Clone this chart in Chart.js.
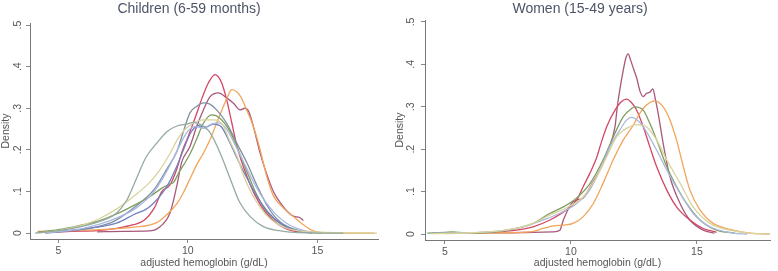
<!DOCTYPE html>
<html><head><meta charset="utf-8">
<script src="https://cdn.jsdelivr.net/npm/chart.js@4"></script>
<style>
html,body{margin:0;padding:0;background:#fff;width:778px;height:271px;overflow:hidden;position:relative}
.w{position:absolute;top:0;height:271px}
canvas{display:block}
</style></head><body>
<div class="w" style="left:0;width:408px"><canvas id="c1" width="408" height="271"></canvas></div>
<div class="w" style="left:390px;width:416px"><canvas id="c2" width="416" height="271"></canvas></div>
<script>
// ---- data (x = adjusted hemoglobin g/dL, y = density) ----
const xTicks = [5, 10, 15];
const yTicks = [0, 0.1, 0.2, 0.3, 0.4, 0.5];
const yTickLabels = ["0", ".1", ".2", ".3", ".4", ".5"];
const titles = ["Children (6-59 months)", "Women (15-49 years)"];
const xTitle = "adjusted hemoglobin (g/dL)";
const yTitle = "Density";

// Children
const chGrayTeal = [[4.1,0],[5.3,0.008],[6.6,0.028],[7.25,0.048],[7.65,0.08],[8.05,0.136],[8.4,0.184],[8.8,0.216],[9.2,0.244],[9.6,0.258],[9.95,0.262],[10.2,0.266],[10.45,0.262],[10.85,0.242],[11.25,0.192],[11.65,0.128],[12.0,0.074],[12.4,0.04],[12.9,0.016],[13.7,0.004],[15,0],[16,0]];
const chSlate = [[4.5,0.001],[5.5,0.006],[6.5,0.015],[7.2,0.03],[8.0,0.065],[8.7,0.105],[9.2,0.155],[9.57,0.195],[9.83,0.244],[10.08,0.289],[10.35,0.305],[10.6,0.313],[10.85,0.31],[11.11,0.296],[11.5,0.264],[11.89,0.216],[12.27,0.17],[12.7,0.11],[13.1,0.062],[13.5,0.03],[14,0.011],[14.7,0.002]];
const chCrimson = [[4.9,0.002],[5.5,0.004],[6.5,0.006],[7.3,0.012],[7.9,0.02],[8.3,0.03],[8.7,0.06],[9.0,0.1],[9.3,0.115],[9.55,0.15],[9.8,0.2],[10.0,0.23],[10.3,0.28],[10.55,0.325],[10.8,0.362],[11.05,0.381],[11.3,0.362],[11.5,0.32],[11.7,0.264],[11.9,0.208],[12.2,0.15],[12.6,0.09],[13,0.05],[13.5,0.02],[14,0.006],[14.8,0]];
const chMauve = [[6.5,0.003],[7.5,0.004],[8.5,0.005],[8.86,0.012],[9.31,0.048],[9.57,0.112],[9.76,0.17],[10.08,0.208],[10.34,0.256],[10.6,0.296],[10.86,0.328],[11.18,0.337],[11.5,0.325],[11.76,0.312],[12.02,0.296],[12.2,0.3],[12.35,0.292],[12.53,0.256],[12.79,0.192],[13.0,0.15],[13.3,0.1],[13.6,0.07],[13.9,0.048],[14.1,0.04],[14.3,0.038],[14.46,0.03]];
const chOrange = [[4.2,0.004],[5.5,0.006],[6.6,0.008],[7.9,0.014],[8.8,0.025],[9.2,0.045],[9.57,0.07],[9.85,0.1],[10.08,0.13],[10.35,0.165],[10.6,0.192],[10.86,0.225],[11.11,0.264],[11.37,0.304],[11.55,0.33],[11.69,0.345],[12.02,0.33],[12.27,0.296],[12.53,0.256],[12.79,0.2],[13.05,0.135],[13.3,0.09],[13.69,0.06],[14.07,0.04],[14.46,0.02],[14.85,0.005],[15.5,0],[17.2,0]];
const chGreen = [[4.2,0.002],[5.0,0.008],[5.8,0.018],[6.6,0.03],[7.25,0.046],[7.9,0.066],[8.54,0.088],[9.0,0.108],[9.3,0.118],[9.45,0.122],[9.65,0.145],[9.85,0.165],[10.08,0.19],[10.34,0.226],[10.6,0.264],[10.92,0.284],[11.24,0.276],[11.63,0.244],[11.89,0.208],[12.2,0.16],[12.6,0.1],[13,0.055],[13.4,0.03],[13.9,0.012],[14.5,0.003],[15.2,0]];
const chKhaki = [[4.2,0],[5,0.006],[6,0.02],[6.6,0.035],[7.3,0.06],[7.9,0.088],[8.5,0.12],[8.9,0.15],[9.3,0.19],[9.6,0.225],[9.9,0.25],[10.2,0.264],[10.6,0.272],[11.0,0.272],[11.35,0.26],[11.6,0.224],[11.9,0.184],[12.2,0.13],[12.6,0.08],[13.0,0.045],[13.5,0.02],[14,0.008],[15,0.002],[17.3,0]];
const chLightBlue = [[4.5,0],[6,0.012],[7,0.03],[8,0.06],[8.7,0.1],[9.2,0.15],[9.6,0.2],[10.0,0.245],[10.3,0.256],[10.6,0.252],[10.9,0.262],[11.2,0.265],[11.5,0.25],[11.8,0.215],[12.2,0.165],[12.6,0.115],[13.0,0.075],[13.4,0.045],[13.9,0.02],[14.5,0.006],[15.2,0]];
const chNavy = [[4.5,0],[6,0.01],[7.25,0.024],[7.9,0.044],[8.54,0.064],[9.19,0.112],[9.57,0.16],[9.83,0.2],[10.1,0.24],[10.4,0.258],[10.7,0.255],[11.0,0.262],[11.3,0.255],[11.6,0.22],[11.9,0.18],[12.3,0.13],[12.7,0.085],[13.1,0.05],[13.6,0.022],[14.2,0.006],[14.8,0]];

// Women
const wmMauve = [[4.5,0.002],[6,0.003],[7.5,0.003],[8.5,0.004],[9.3,0.005],[9.56,0.009],[9.7,0.033],[10.03,0.072],[10.23,0.08],[10.49,0.085],[10.8,0.115],[11.15,0.151],[11.5,0.2],[11.75,0.253],[11.84,0.3],[11.94,0.34],[12.08,0.387],[12.18,0.415],[12.27,0.425],[12.37,0.41],[12.47,0.392],[12.61,0.368],[12.74,0.337],[12.87,0.324],[13.0,0.332],[13.12,0.334],[13.25,0.342],[13.35,0.318],[13.46,0.285],[13.66,0.214],[13.93,0.135],[14.33,0.072],[14.72,0.033],[15.25,0.009],[15.7,0.002]];
const wmCrimson = [[4.5,0.002],[6,0.003],[7,0.005],[7.85,0.009],[8.5,0.017],[9.17,0.033],[9.83,0.057],[10.23,0.08],[10.49,0.112],[10.75,0.143],[11.02,0.18],[11.2,0.215],[11.42,0.253],[11.75,0.292],[12.0,0.312],[12.21,0.318],[12.4,0.31],[12.61,0.292],[12.87,0.253],[13.13,0.206],[13.4,0.159],[13.8,0.104],[14.19,0.064],[14.72,0.033],[15.25,0.013],[15.78,0.004]];
const wmGreen = [[4.3,0.002],[5.0,0.004],[5.3,0.005],[5.8,0.003],[6.5,0.003],[7.2,0.006],[7.85,0.013],[8.5,0.025],[9.17,0.049],[9.7,0.064],[10.23,0.085],[10.75,0.118],[11.28,0.175],[11.68,0.229],[12.08,0.277],[12.41,0.296],[12.54,0.3],[12.87,0.292],[13.13,0.261],[13.4,0.222],[13.8,0.159],[14.19,0.112],[14.59,0.072],[15.12,0.033],[15.78,0.009],[16.5,0.002]];
const wmLightBlue = [[4.5,0.002],[6,0.003],[7,0.006],[8.1,0.017],[8.9,0.033],[9.56,0.049],[10.23,0.072],[10.75,0.104],[11.15,0.151],[11.55,0.206],[11.94,0.245],[12.2,0.268],[12.41,0.275],[12.6,0.27],[12.87,0.253],[13.4,0.198],[13.8,0.151],[14.33,0.096],[14.85,0.049],[15.52,0.017],[16.44,0.002],[17,0]];
const wmKhaki = [[4.5,0.001],[6,0.003],[7,0.006],[7.8,0.013],[8.5,0.025],[9.17,0.045],[9.83,0.062],[10.49,0.088],[11.02,0.135],[11.42,0.182],[11.81,0.229],[12.1,0.245],[12.34,0.253],[12.55,0.258],[12.8,0.257],[13.0,0.253],[13.4,0.222],[13.8,0.175],[14.33,0.12],[14.85,0.064],[15.52,0.025],[16.31,0.009],[17.1,0.002],[17.9,0]];
const wmOrange = [[5,0.001],[6.5,0.002],[7.5,0.003],[8.37,0.005],[8.9,0.013],[9.3,0.019],[9.7,0.021],[10.09,0.025],[10.49,0.041],[10.89,0.072],[11.28,0.12],[11.68,0.175],[12.08,0.222],[12.48,0.257],[12.74,0.285],[13.0,0.304],[13.33,0.314],[13.66,0.3],[13.93,0.269],[14.19,0.222],[14.46,0.159],[14.72,0.104],[15.12,0.057],[15.65,0.025],[16.44,0.009],[17.1,0.002],[17.9,0]];

const colors = {grayTeal:'#94aba1', slate:'#7f8fa0', crimson:'#d24763', mauve:'#a8587a', orange:'#f2a45a', green:'#7f9e62', khaki:'#d9d39c', lightBlue:'#a9b8e0', navy:'#7281c0'};

const FONT = '"Liberation Sans", Arial, sans-serif';
const yLabelPlugin = {
  id: 'ylab',
  afterDraw(chart, args, opts) {
    const s = chart.scales.y, ctx = chart.ctx;
    ctx.save();
    ctx.font = '10.5px ' + FONT;
    ctx.fillStyle = '#555';
    ctx.textAlign = 'center';
    ctx.textBaseline = 'middle';
    s.ticks.forEach((t, i) => {
      const y = s.getPixelForValue(t.value);
      ctx.save();
      ctx.translate(opts.x, y);
      ctx.rotate(-Math.PI / 2);
      ctx.fillText(yTickLabels[i], 0, 0);
      ctx.restore();
    });
    ctx.restore();
  }
};

function ds(data, color) {
  return {data: data.map(p => ({x: p[0], y: p[1]})), borderColor: color, borderWidth: 1.3, pointRadius: 0, fill: false, cubicInterpolationMode: 'monotone'};
}

function makeChart(id, title, datasets, g) {
  return new Chart(document.getElementById(id), {
    type: 'line',
    data: {datasets},
    plugins: [yLabelPlugin],
    options: {
      responsive: false, animation: false, devicePixelRatio: 1,
      layout: {padding: {left: 0, right: g.padRight, top: 0, bottom: 0}},
      plugins: {
        legend: {display: false}, tooltip: {enabled: false},
        title: {display: true, text: title, color: '#4e5468', font: {family: FONT, size: 14, weight: 'normal'}, padding: {top: g.tTop, bottom: g.tBottom}},
        ylab: {x: g.labX}
      },
      scales: {
        x: {
          type: 'linear', min: g.xmin, max: g.xmax,
          afterBuildTicks: s => { s.ticks = xTicks.map(v => ({value: v})); },
          afterFit: s => { s.height = g.xh; },
          grid: {display: true, drawOnChartArea: false, drawTicks: true, tickLength: 4, color: '#888'},
          border: {display: true, color: '#777', width: 1},
          ticks: {color: '#555', padding: 2, font: {family: FONT, size: 10.5}, maxRotation: 0},
          title: {display: true, text: xTitle, color: '#555', font: {family: FONT, size: 10.5}, padding: {top: 0, bottom: g.xtb}}
        },
        y: {
          type: 'linear', min: g.ymin, max: g.ymax,
          afterBuildTicks: s => { s.ticks = yTicks.map(v => ({value: v})); },
          afterFit: s => { s.width = g.yw; },
          grid: {display: true, drawOnChartArea: false, drawTicks: true, tickLength: 4, color: '#888'},
          border: {display: true, color: '#777', width: 1},
          ticks: {display: false},
          title: {display: true, text: yTitle, color: '#555', font: {family: FONT, size: 10.5}, padding: {top: g.ytt, bottom: 0}}
        }
      }
    }
  });
}

makeChart('c1', titles[0], [
  ds(chGrayTeal, colors.grayTeal), ds(chKhaki, colors.khaki), ds(chLightBlue, colors.lightBlue), ds(chNavy, colors.navy),
  ds(chGreen, colors.green), ds(chSlate, colors.slate), ds(chOrange, colors.orange), ds(chMauve, colors.mauve), ds(chCrimson, colors.crimson)
], {padRight: 30, tTop: 0.9, tBottom: 5.3, xmin: 3.907, xmax: 17.34, ymin: -0.0143, ymax: 0.505, xh: 32, yw: 30, labX: 18, xtb: 1.7, ytt: 0});

makeChart('c2', titles[1], [
  ds(wmKhaki, colors.khaki), ds(wmLightBlue, colors.lightBlue), ds(wmGreen, colors.green),
  ds(wmOrange, colors.orange), ds(wmCrimson, colors.crimson), ds(wmMauve, colors.mauve)
], {padRight: 36, tTop: 0.4, tBottom: 2.8, xmin: 4.21, xmax: 17.9, ymin: -0.01415, ymax: 0.5047, xh: 31, yw: 35, labX: 20.7, xtb: 2, ytt: 4});
</script>
</body></html>
